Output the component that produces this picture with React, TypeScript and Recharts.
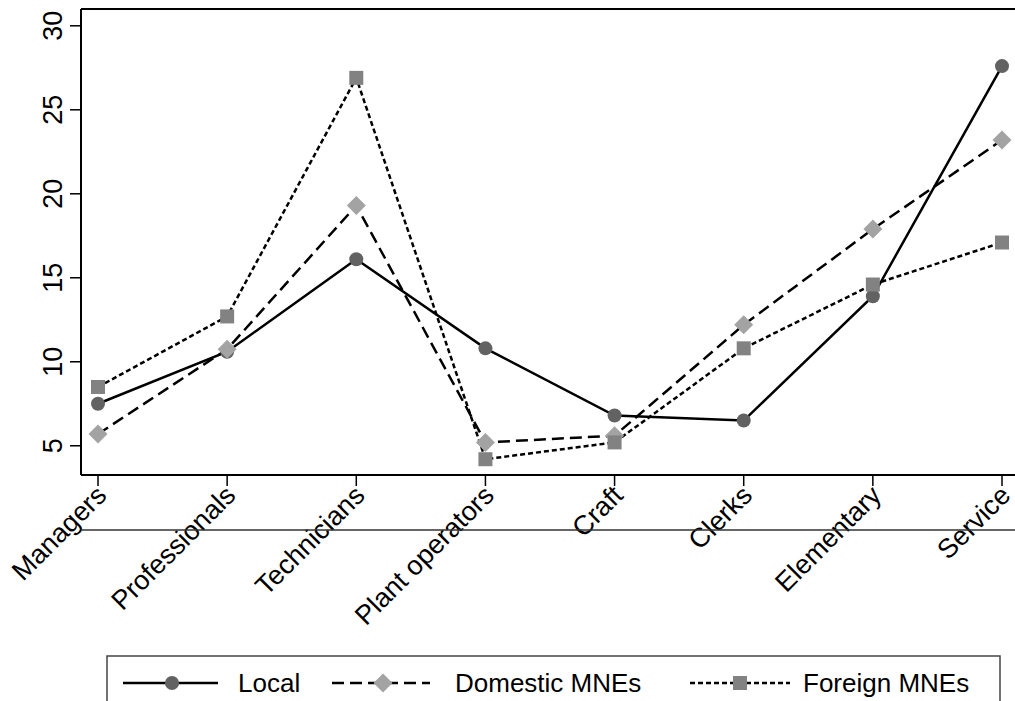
import { LineChart, Line, XAxis, YAxis, ReferenceLine } from "recharts";

const categories = [
  "Managers",
  "Professionals",
  "Technicians",
  "Plant operators",
  "Craft",
  "Clerks",
  "Elementary",
  "Service",
];
const local = [7.5, 10.6, 16.1, 10.8, 6.8, 6.5, 13.9, 27.6];
const domestic = [5.7, 10.75, 19.3, 5.2, 5.6, 12.2, 17.9, 23.2];
const foreign = [8.5, 12.7, 26.9, 4.2, 5.2, 10.8, 14.6, 17.1];
const yTicks = [5, 10, 15, 20, 25, 30];

const data = categories.map((c, i) => ({
  cat: c,
  local: local[i],
  domestic: domestic[i],
  foreign: foreign[i],
}));

const FONT = "Arial, 'Liberation Sans', Helvetica, sans-serif";
const C_CIRCLE = "#626262";
const C_DIAMOND = "#a3a3a3";
const C_SQUARE = "#828282";

const Circle = ({ cx, cy }: any) => <circle cx={cx} cy={cy} r={7} fill={C_CIRCLE} />;
const Diamond = ({ cx, cy }: any) => (
  <polygon
    points={`${cx},${cy - 9.5} ${cx + 9.5},${cy} ${cx},${cy + 9.5} ${cx - 9.5},${cy}`}
    fill={C_DIAMOND}
  />
);
const Square = ({ cx, cy }: any) => (
  <rect x={cx - 7} y={cy - 7} width={14} height={14} fill={C_SQUARE} />
);

const YTick = ({ x, y, payload }: any) => {
  const ax = x - 8;
  return (
    <text
      x={ax}
      y={y}
      transform={`rotate(-90, ${ax}, ${y})`}
      textAnchor="middle"
      fontSize={27}
      fontFamily={FONT}
      fill="#000"
    >
      {payload.value}
    </text>
  );
};

const XTick = ({ x, y, payload }: any) => {
  const ax = x + 10;
  const ay = y + 11;
  return (
    <text
      x={ax}
      y={ay}
      transform={`rotate(-45, ${ax}, ${ay})`}
      textAnchor="end"
      fontSize={27}
      fontFamily={FONT}
      fill="#000"
    >
      {payload.value}
    </text>
  );
};

function LegendBox() {
  const ty = 692;
  return (
    <svg
      width={1015}
      height={701}
      style={{ position: "absolute", left: 0, top: 0, pointerEvents: "none" }}
    >
      <line x1={81} y1={530} x2={1015} y2={530} stroke="#333" strokeWidth={1.5} />
      <rect x={107} y={656} width={893} height={70} fill="none" stroke="#444" strokeWidth={1.5} />
      <line x1={123} y1={683} x2={218} y2={683} stroke="#000" strokeWidth={2.5} />
      <Circle cx={172} cy={683} />
      <text x={238} y={ty} fontSize={26} fontFamily={FONT}>Local</text>
      <line x1={332} y1={683} x2={430} y2={683} stroke="#000" strokeWidth={2.5} strokeDasharray="12 6" />
      <Diamond cx={383} cy={683} />
      <text x={455} y={ty} fontSize={26} fontFamily={FONT}>Domestic MNEs</text>
      <line x1={690} y1={683} x2={790} y2={683} stroke="#000" strokeWidth={2.5} strokeDasharray="5 3" />
      <Square cx={740} cy={683} />
      <text x={803} y={ty} fontSize={26} fontFamily={FONT}>Foreign MNEs</text>
    </svg>
  );
}

export default function App() {
  return (
    <div
      style={{
        position: "absolute",
        left: 0,
        top: 0,
        width: 1015,
        height: 701,
        background: "#fff",
        overflow: "hidden",
      }}
    >
      <LineChart
        width={1015}
        height={701}
        data={data}
        margin={{ top: 9, right: 0, left: 0, bottom: 0 }}
      >
        <XAxis
          dataKey="cat"
          height={226}
          padding={{ left: 17, right: 13 }}
          axisLine={{ stroke: "#000", strokeWidth: 2 }}
          tickLine={{ stroke: "#000", strokeWidth: 1.5 }}
          tickSize={11}
          tickMargin={0}
          interval={0}
          tick={<XTick />}
        />
        <YAxis
          width={81}
          domain={[3.26, 31]}
          ticks={yTicks}
          allowDataOverflow
          axisLine={{ stroke: "#000", strokeWidth: 2 }}
          tickLine={{ stroke: "#000", strokeWidth: 1.5 }}
          tickSize={11}
          tickMargin={0}
          tick={<YTick />}
        />
        <ReferenceLine y={31} stroke="#000" strokeWidth={2} />
        <Line
          dataKey="local"
          stroke="#000"
          strokeWidth={2.5}
          dot={<Circle />}
          activeDot={false}
          isAnimationActive={false}
        />
        <Line
          dataKey="domestic"
          stroke="#000"
          strokeWidth={2.5}
          strokeDasharray="12 6"
          dot={<Diamond />}
          activeDot={false}
          isAnimationActive={false}
        />
        <Line
          dataKey="foreign"
          stroke="#000"
          strokeWidth={2.5}
          strokeDasharray="5 3"
          dot={<Square />}
          activeDot={false}
          isAnimationActive={false}
        />
      </LineChart>
      <LegendBox />
    </div>
  );
}
